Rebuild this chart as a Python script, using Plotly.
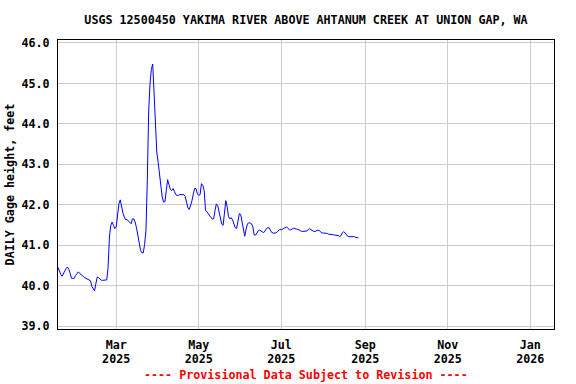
import pandas as pd
import plotly.graph_objects as go

# ---- data ----
start_date = "2025-01-17"
gage_height = [
    40.45, 40.34, 40.28, 40.23, 40.30, 40.36, 40.42, 40.46, 40.40, 40.30,
    40.18, 40.18, 40.18, 40.25, 40.31, 40.34, 40.30, 40.28, 40.26, 40.22,
    40.19, 40.17, 40.16, 40.14, 40.12, 39.98, 39.93, 39.87, 40.05, 40.21,
    40.20, 40.15, 40.13, 40.13, 40.13, 40.13, 40.14, 40.44, 41.20, 41.49,
    41.57, 41.49, 41.41, 41.45, 41.78, 42.02, 42.12, 41.94, 41.79, 41.70,
    41.63, 41.63, 41.61, 41.57, 41.53, 41.65, 41.65, 41.57, 41.43, 41.20,
    41.00, 40.87, 40.81, 40.81, 41.02, 41.37, 42.60, 44.30, 45.00, 45.35,
    45.48, 44.85, 43.90, 43.30, 43.05, 42.75, 42.35, 42.19, 42.07, 42.07,
    42.35, 42.62, 42.50, 42.38, 42.35, 42.40, 42.33, 42.25, 42.23, 42.23,
    42.25, 42.25, 42.25, 42.25, 42.20, 42.02, 41.92, 41.88, 41.98, 42.10,
    42.27, 42.40, 42.40, 42.27, 42.23, 42.25, 42.52, 42.48, 42.35, 41.86,
    41.83, 41.77, 41.72, 41.68, 41.65, 41.65, 41.85, 42.02, 41.98, 41.80,
    41.60, 41.52, 41.49, 41.80, 42.10, 41.95, 41.70, 41.65, 41.68, 41.62,
    41.50, 41.43, 41.41, 41.58, 41.78, 41.76, 41.60, 41.41, 41.22, 41.40,
    41.53, 41.55, 41.55, 41.53, 41.45, 41.25, 41.25, 41.30, 41.36, 41.37,
    41.35, 41.33, 41.31, 41.35, 41.41, 41.43, 41.43, 41.37, 41.31, 41.30,
    41.30, 41.30, 41.33, 41.37, 41.39, 41.38, 41.40, 41.41, 41.43, 41.45,
    41.41, 41.38, 41.38, 41.40, 41.42, 41.41, 41.39, 41.39, 41.38, 41.35,
    41.34, 41.34, 41.34, 41.34, 41.35, 41.39, 41.41, 41.38, 41.35, 41.34,
    41.34, 41.36, 41.37, 41.36, 41.32, 41.30, 41.30, 41.30, 41.30, 41.29,
    41.27, 41.27, 41.27, 41.26, 41.25, 41.25, 41.24, 41.24, 41.21, 41.23,
    41.30, 41.33, 41.31, 41.26, 41.22, 41.21, 41.21, 41.22, 41.22, 41.21,
    41.19, 41.18, 41.18,
]
dates = pd.date_range(start_date, periods=len(gage_height), freq="D")

title_text = "USGS 12500450 YAKIMA RIVER ABOVE AHTANUM CREEK AT UNION GAP, WA"
y_title = "DAILY Gage height, feet"
footer_text = "---- Provisional Data Subject to Revision ----"

FONT = "DejaVu Sans Mono"
FS = 11.7
X_RANGE = ["2025-01-17", "2026-01-18 12:00"]

fig = go.Figure()
fig.add_trace(go.Scatter(
    x=dates, y=gage_height, mode="lines",
    line=dict(color="#0000ff", width=1),
    hoverinfo="skip", showlegend=False,
))
# invisible companion trace so the year-label axis is drawn
fig.add_trace(go.Scatter(
    x=dates, y=gage_height, mode="lines", xaxis="x2",
    line=dict(color="rgba(0,0,0,0)", width=0),
    hoverinfo="skip", showlegend=False,
))

fig.update_layout(
    width=576, height=384,
    margin=dict(l=58, r=22, t=40, b=55),
    paper_bgcolor="white", plot_bgcolor="white",
    font=dict(family=FONT, size=FS, color="black"),
    title=dict(
        text="<b>" + title_text + "</b>",
        x=0.5, xref="paper", xanchor="center",
        y=(384 - 20) / 384, yref="container", yanchor="middle",
        font=dict(family=FONT, size=FS, color="black"),
    ),
    annotations=[dict(
        text="<b>" + footer_text + "</b>",
        xref="paper", yref="paper", x=0.5, y=(329 - 375) / 289,
        xanchor="center", yanchor="middle", showarrow=False,
        font=dict(family=FONT, size=FS, color="red"),
    )],
    xaxis=dict(
        type="date", range=X_RANGE, automargin=False,
        tick0="2025-03-01", dtick="M2",
        tickformat="<b>%b</b>",
        ticklabelstandoff=5,
        showgrid=True, gridcolor="#cccccc", gridwidth=1,
        showline=True, linecolor="black", linewidth=1, mirror=True,
        ticks="", zeroline=False,
        tickfont=dict(family=FONT, size=FS, color="black"),
    ),
    xaxis2=dict(
        type="date", range=X_RANGE, automargin=False,
        overlaying="x", side="bottom", anchor="y",
        tick0="2025-03-01", dtick="M2",
        tickformat="<b>%Y</b>",
        ticklabelstandoff=21,
        showgrid=False, showline=False, ticks="", zeroline=False,
        tickfont=dict(family=FONT, size=FS, color="black"),
    ),
    yaxis=dict(
        range=[39 - 3 / 40.5, 46 + 3 / 40.5], automargin=False,
        tick0=39, dtick=1, tickformat=".1f",
        tickprefix="<b>", ticksuffix="</b>",
        showgrid=True, gridcolor="#cccccc", gridwidth=1,
        showline=True, linecolor="black", linewidth=1, mirror=True,
        ticks="", zeroline=False,
        ticklabelstandoff=5,
        tickfont=dict(family=FONT, size=FS, color="black"),
        title=dict(text="<b>" + y_title + "</b>", standoff=4,
                   font=dict(family=FONT, size=FS, color="black")),
    ),
)

fig.write_html("out.html")
